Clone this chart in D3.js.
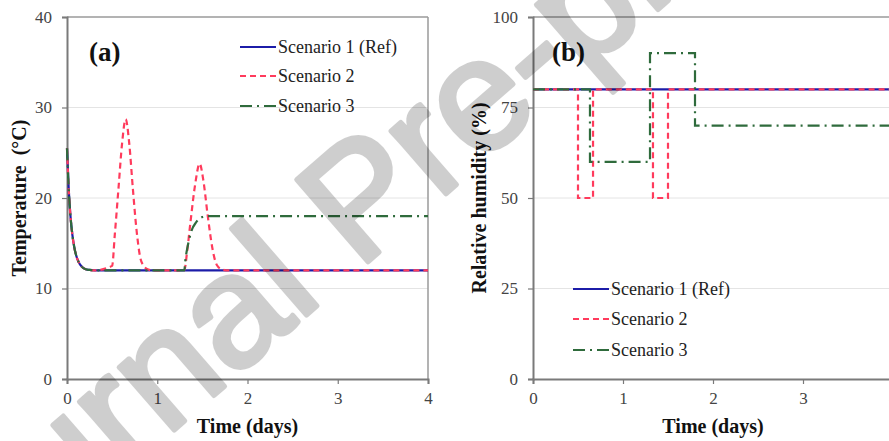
<!DOCTYPE html>
<html>
<head>
<meta charset="utf-8">
<script src="https://cdn.jsdelivr.net/npm/d3@7"></script>
<style>
  html, body { margin: 0; padding: 0; background: #fff; }
  svg { display: block; }
</style>
</head>
<body>
<svg id="chart" width="889" height="441"></svg>
<script>
// ---------- data ----------
const timeTicks = [0, 1, 2, 3, 4];
const tempTicks = [0, 10, 20, 30, 40];
const rhTicks = [0, 25, 50, 75, 100];
const seriesNames = ["Scenario 1 (Ref)", "Scenario 2", "Scenario 3"];

// Panel (a) temperature (°C) vs time (days)
const tempS1Time = [0, 0.02, 0.04, 0.06, 0.08, 0.1, 0.13, 0.16, 0.2, 0.25, 0.3, 4];
const tempS1 =     [25.5, 20.8, 17.8, 15.9, 14.6, 13.7, 12.9, 12.45, 12.15, 12.05, 12, 12];

const tempS2Time = [0, 0.02, 0.04, 0.06, 0.08, 0.1, 0.13, 0.16, 0.2, 0.25, 0.3, 0.5, 0.53, 0.57, 0.61, 0.65, 0.69, 0.73, 0.77, 0.81, 0.85, 0.9, 0.95, 1.3, 1.33, 1.37, 1.42, 1.47, 1.51, 1.56, 1.61, 1.66, 1.72, 1.78, 4];
const tempS2 =     [25.5, 20.8, 17.8, 15.9, 14.6, 13.7, 12.9, 12.45, 12.15, 12.05, 12, 12.5, 16, 21, 26, 28.7, 26, 21, 16.5, 13.5, 12.5, 12.1, 12, 12, 14, 17.5, 21.5, 23.8, 22, 18, 14.5, 12.6, 12.1, 12, 12];

const tempS3Time = [0, 0.02, 0.04, 0.06, 0.08, 0.1, 0.13, 0.16, 0.2, 0.25, 0.3, 1.3, 1.31, 1.34, 1.38, 1.43, 1.5, 1.55, 4];
const tempS3 =     [25.5, 20.8, 17.8, 15.9, 14.6, 13.7, 12.9, 12.45, 12.15, 12.05, 12, 12, 13, 14.8, 16.4, 17.3, 17.9, 18, 18];

// Panel (b) relative humidity (%) vs time (days) – step profiles
const rhS1Time = [0, 4];
const rhS1 =     [80, 80];
const rhS2Time = [0, 0.5, 0.5, 0.667, 0.667, 1.333, 1.333, 1.5, 1.5, 4];
const rhS2 =     [80, 80, 50, 50, 80, 80, 50, 50, 80, 80];
const rhS3Time = [0, 0.633, 0.633, 1.3, 1.3, 1.8, 1.8, 4];
const rhS3 =     [80, 80, 60, 60, 90, 90, 70, 70];

// ---------- styles ----------
const colors = ["#1c1ca8", "#ff3b5c", "#2f6b3c"];
const dashes = [null, "6,4", "12,5,2,5"];
const serif = "'Liberation Serif', 'Times New Roman', serif";

const svg = d3.select("#chart");

function panel(opts) {
  const g = svg.append("g");
  const x = d3.scaleLinear().domain([0, 4]).range([opts.x0, opts.x1]);
  const y = d3.scaleLinear().domain(opts.yDomain).range([379, 17]);

  // gridlines
  g.selectAll("line.grid").data(opts.yTicks.slice(1, -1)).join("line")
    .attr("x1", opts.x0).attr("x2", opts.x1)
    .attr("y1", d => y(d)).attr("y2", d => y(d))
    .attr("stroke", "#e4e4e4").attr("stroke-width", 1);

  // frame top & right
  g.append("line").attr("x1", opts.x0).attr("x2", opts.x1).attr("y1", y(opts.yDomain[1])).attr("y2", y(opts.yDomain[1]))
    .attr("stroke", "#9a9a9a").attr("stroke-width", 1.5);
  g.append("line").attr("x1", opts.x1).attr("x2", opts.x1).attr("y1", 17).attr("y2", 379)
    .attr("stroke", "#9a9a9a").attr("stroke-width", 1.5);

  // axes
  const xAxis = d3.axisBottom(x).tickValues(timeTicks).tickFormat(d3.format("d")).tickSize(5).tickPadding(8);
  const yAxis = d3.axisLeft(y).tickValues(opts.yTicks).tickFormat(d3.format("d")).tickSize(5).tickPadding(10);
  const gx = g.append("g").attr("transform", "translate(0,379)").call(xAxis);
  const gy = g.append("g").attr("transform", `translate(${opts.x0},0)`).call(yAxis);
  [gx, gy].forEach(a => {
    a.select(".domain").attr("stroke", "#7a7a7a").attr("stroke-width", 2);
    a.selectAll(".tick line").attr("stroke", "#7a7a7a").attr("stroke-width", 1.2);
    a.selectAll(".tick text").attr("font-family", serif).attr("font-size", 17).attr("fill", "#444");
  });

  // series
  opts.series.forEach((s, i) => {
    const pts = s.t.map((t, k) => [t, s.v[k]]);
    const line = d3.line().x(d => x(d[0])).y(d => y(d[1])).curve(opts.curve);
    g.append("path").datum(pts)
      .attr("d", line)
      .attr("fill", "none")
      .attr("stroke", colors[i])
      .attr("stroke-width", 2.2)
      .attr("stroke-dasharray", dashes[i]);
  });

  // panel label
  g.append("text").attr("x", opts.labelX).attr("y", 61)
    .attr("font-family", serif).attr("font-weight", "bold").attr("font-size", 27)
    .attr("fill", "#111").text(opts.label);

  // x title
  g.append("text").attr("x", (opts.x0 + opts.x1) / 2).attr("y", 433)
    .attr("text-anchor", "middle").attr("font-family", serif).attr("font-weight", "bold")
    .attr("font-size", 20).attr("fill", "#111").text("Time (days)");

  // y title
  g.append("text").attr("transform", `translate(${opts.yTitleX},198) rotate(-90)`)
    .attr("text-anchor", "middle").attr("font-family", serif).attr("font-weight", "bold")
    .attr("font-size", 20).attr("fill", "#111").attr("xml:space", "preserve").text(opts.yTitle);

  // legend
  const lg = g.append("g");
  seriesNames.forEach((name, i) => {
    const cy = opts.legY[i];
    lg.append("line").attr("x1", opts.legX).attr("x2", opts.legX + 36).attr("y1", cy).attr("y2", cy)
      .attr("stroke", colors[i]).attr("stroke-width", 2.2).attr("stroke-dasharray", dashes[i]);
    lg.append("text").attr("x", opts.legX + 38).attr("y", cy + 6)
      .attr("font-family", serif).attr("font-size", 18).attr("fill", "#222").text(name);
  });
}

panel({
  x0: 67, x1: 428, yDomain: [0, 40], yTicks: tempTicks,
  curve: d3.curveMonotoneX,
  series: [{t: tempS1Time, v: tempS1}, {t: tempS2Time, v: tempS2}, {t: tempS3Time, v: tempS3}],
  label: "(a)", labelX: 89,
  yTitle: "Temperature  (°C)", yTitleX: 26,
  legX: 240, legY: [47, 76, 106]
});

panel({
  x0: 533, x1: 893, yDomain: [0, 100], yTicks: rhTicks,
  curve: d3.curveLinear,
  series: [{t: rhS1Time, v: rhS1}, {t: rhS2Time, v: rhS2}, {t: rhS3Time, v: rhS3}],
  label: "(b)", labelX: 552,
  yTitle: "Relative humidity (%)", yTitleX: 486,
  legX: 573, legY: [289, 319, 350]
});

// watermark
svg.append("g").attr("opacity", 0.19)
  .append("text")
  .attr("transform", "translate(-66,639) rotate(-41)")
  .attr("font-family", "'Liberation Sans', Arial, sans-serif")
  .attr("font-size", 158)
  .attr("fill", "#000").attr("stroke", "#000").attr("stroke-width", 5)
  .attr("stroke-linejoin", "round")
  .text("Journal Pre-proof");
</script>
</body>
</html>
